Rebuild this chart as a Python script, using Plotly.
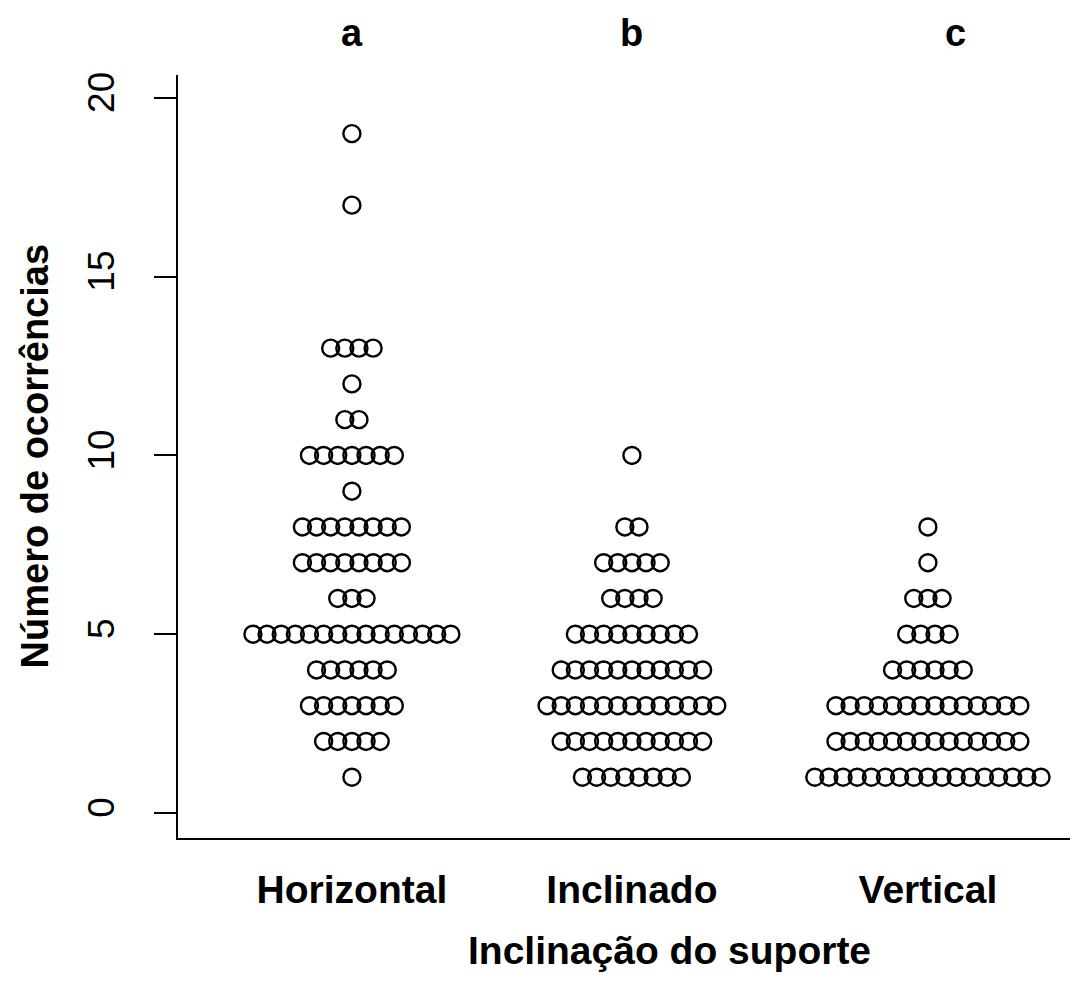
import plotly.graph_objects as go

# ---- data ----
categories = ["Horizontal", "Inclinado", "Vertical"]
group_letters = ["a", "b", "c"]
group_x = [1.0, 2.0, 3.057]          # centre positions of the three strips
letter_x = [1.0, 2.0, 3.154]         # positions of the significance letters

horizontal_values = [1, 2, 3, 4, 5, 6, 7, 8, 9, 10, 11, 12, 13, 17, 19]
horizontal_counts = [1, 5, 7, 6, 15, 3, 8, 8, 1, 7, 2, 1, 4, 1, 1]

inclinado_values = [1, 2, 3, 4, 5, 6, 7, 8, 10]
inclinado_counts = [8, 11, 13, 11, 9, 4, 5, 2, 1]

vertical_values = [1, 2, 3, 4, 5, 6, 7, 8]
vertical_counts = [17, 14, 14, 6, 4, 3, 1, 1]

y_ticks = [0, 5, 10, 15, 20]
stack_step = 0.0505   # horizontal offset between stacked points (x units)

groups = [
    (horizontal_values, horizontal_counts),
    (inclinado_values, inclinado_counts),
    (vertical_values, vertical_counts),
]

FONT = "Liberation Sans, Arial, Helvetica, sans-serif"

fig = go.Figure()
for gx, (vals, cnts) in zip(group_x, groups):
    xs, ys = [], []
    for v, n in zip(vals, cnts):
        for k in range(n):
            xs.append(gx + (k - (n - 1) / 2) * stack_step)
            ys.append(v)
    fig.add_trace(go.Scatter(
        x=xs, y=ys, mode="markers",
        marker=dict(symbol="circle-open", size=17, color="black",
                    line=dict(width=2.4, color="black")),
        showlegend=False, hoverinfo="skip"))

annotations = []
for lx, lt in zip(letter_x, group_letters):
    annotations.append(dict(x=lx, y=1.055, xref="x", yref="paper", text=lt,
                            showarrow=False, xanchor="center", yanchor="middle",
                            font=dict(family=FONT, size=38, color="black", weight="bold")))
annotations.append(dict(x=0.5456, y=-0.1468, xref="paper", yref="paper",
                        text="Inclinação do suporte", showarrow=False,
                        xanchor="center", yanchor="middle",
                        font=dict(family=FONT, size=39, color="black", weight="bold")))
annotations.append(dict(x=-0.159, y=0.5, xref="paper", yref="paper",
                        text="Número de ocorrências", showarrow=False, textangle=-90,
                        xanchor="center", yanchor="middle",
                        font=dict(family=FONT, size=38, color="black", weight="bold")))

fig.update_layout(
    width=1070, height=982,
    margin=dict(l=170, r=0, t=67, b=152),
    paper_bgcolor="white", plot_bgcolor="white",
    annotations=annotations,
    xaxis=dict(range=[0.379, 3.593], tickvals=group_x, ticktext=categories,
               showline=True, linewidth=2, linecolor="black", ticks="",
               showgrid=False, zeroline=False, ticklabelstandoff=16,
               tickfont=dict(family=FONT, size=39, color="black", weight="bold")),
    yaxis=dict(range=[-0.70, 20.64], tickvals=y_ticks,
               ticktext=[str(t) for t in y_ticks], tickangle=-90,
               showline=True, linewidth=2, linecolor="black",
               ticks="outside", ticklen=22, tickwidth=2, tickcolor="black",
               showgrid=False, zeroline=False, ticklabelstandoff=25,
               tickfont=dict(family=FONT, size=37, color="black")),
)

fig.write_html("out.html")
